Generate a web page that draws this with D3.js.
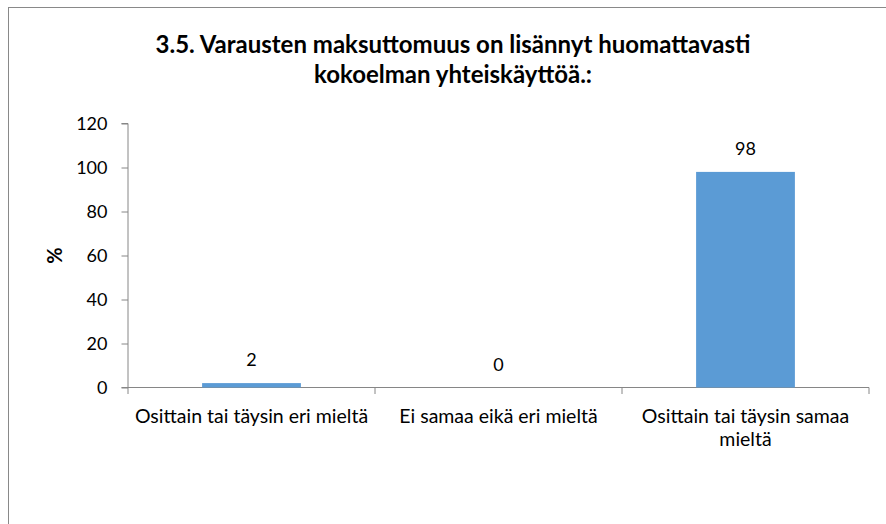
<!DOCTYPE html>
<html><head><meta charset="utf-8">
<script src="https://cdn.jsdelivr.net/npm/d3@7"></script>
<style>body{margin:0;background:#fff}svg{display:block}</style>
</head><body>
<script>
const categories = ["Osittain tai täysin eri mieltä", "Ei samaa eikä eri mieltä", "Osittain tai täysin samaa mieltä"];
const values = [2, 0, 98];
const yTicks = [0, 20, 40, 60, 80, 100, 120];
const titleLines = ["3.5. Varausten maksuttomuus on lisännyt huomattavasti", "kokoelman yhteiskäyttöä.:"];
const yTitle = "%";

(function () {
const W = 886, H = 524;
const font = "Lato, 'Open Sans', sans-serif";
const svg = d3.select("body").append("svg").attr("width", W).attr("height", H);
svg.append("rect").attr("x", 8.5).attr("y", 7.5).attr("width", 890).attr("height", 540)
  .attr("fill", "#fff").attr("stroke", "#898989").attr("stroke-width", 1);

const pLeft = 128, pRight = 869, pTop = 123.5, pBottom = 387.5;
const x = d3.scaleBand().domain(categories).range([pLeft, pRight]).paddingInner(0.6).paddingOuter(0.3);
const y = d3.scaleLinear().domain([0, 120]).range([pBottom, pTop]);

svg.selectAll("text.title").data(titleLines).enter().append("text")
  .attr("x", 453).attr("y", (d, i) => 53 + i * 30).attr("text-anchor", "middle")
  .attr("font-family", font).attr("font-weight", "bold").attr("font-size", 24).attr("fill", "#000").text(d => d);

// y axis
const yAxis = svg.append("g").attr("transform", `translate(${pLeft},0)`)
  .call(d3.axisLeft(y).tickValues(yTicks).tickSize(6.5).tickPadding(14));
yAxis.select(".domain").attr("stroke", "#868686").attr("d", `M-6.5,${pTop}H0V${pBottom}`);
yAxis.selectAll(".tick line").attr("stroke", "#868686");
yAxis.selectAll(".tick text").attr("font-family", font).attr("font-size", 18).attr("fill", "#000");

// x axis
const bounds = [pLeft, ...categories.map(c => x(c) + x.bandwidth() / 2 + x.step() / 2)];
const xg = svg.append("g");
xg.append("line").attr("x1", pLeft - 6.5).attr("x2", pRight).attr("y1", pBottom).attr("y2", pBottom).attr("stroke", "#868686");
xg.selectAll("line.sep").data(bounds).enter().append("line")
  .attr("x1", d => d).attr("x2", d => d).attr("y1", pBottom).attr("y2", pBottom + 6.5).attr("stroke", "#868686");

// bars
svg.selectAll("rect.bar").data(values).enter().append("rect")
  .attr("x", (d, i) => x(categories[i])).attr("width", x.bandwidth())
  .attr("y", d => y(d)).attr("height", d => pBottom - y(d)).attr("fill", "#5B9BD5");

svg.selectAll("text.val").data(values).enter().append("text")
  .attr("x", (d, i) => x(categories[i]) + x.bandwidth() / 2).attr("y", d => y(d) - 17)
  .attr("text-anchor", "middle").attr("font-family", font).attr("font-size", 18).attr("fill", "#000").text(d => d);

// x labels with wrapping
const maxW = x.step() - 4;
categories.forEach(c => {
  const cx = x(c) + x.bandwidth() / 2;
  const t = svg.append("text").attr("x", cx).attr("y", 423)
    .attr("text-anchor", "middle").attr("font-family", font).attr("font-size", 19.5).attr("fill", "#000");
  const words = c.split(" ");
  let line = [];
  let ts = t.append("tspan").attr("x", cx).attr("dy", 0);
  words.forEach(w => {
    line.push(w);
    ts.text(line.join(" "));
    if (ts.node().getComputedTextLength() > maxW && line.length > 1) {
      line.pop(); ts.text(line.join(" "));
      line = [w];
      ts = t.append("tspan").attr("x", cx).attr("dy", 23).text(w);
    }
  });
});

svg.append("text").attr("transform", `translate(62,${(pTop + pBottom) / 2}) rotate(-90)`)
  .attr("text-anchor", "middle").attr("font-family", font).attr("font-weight", "bold")
  .attr("font-size", 20).attr("fill", "#000").text(yTitle);
})();
</script>
</body></html>
